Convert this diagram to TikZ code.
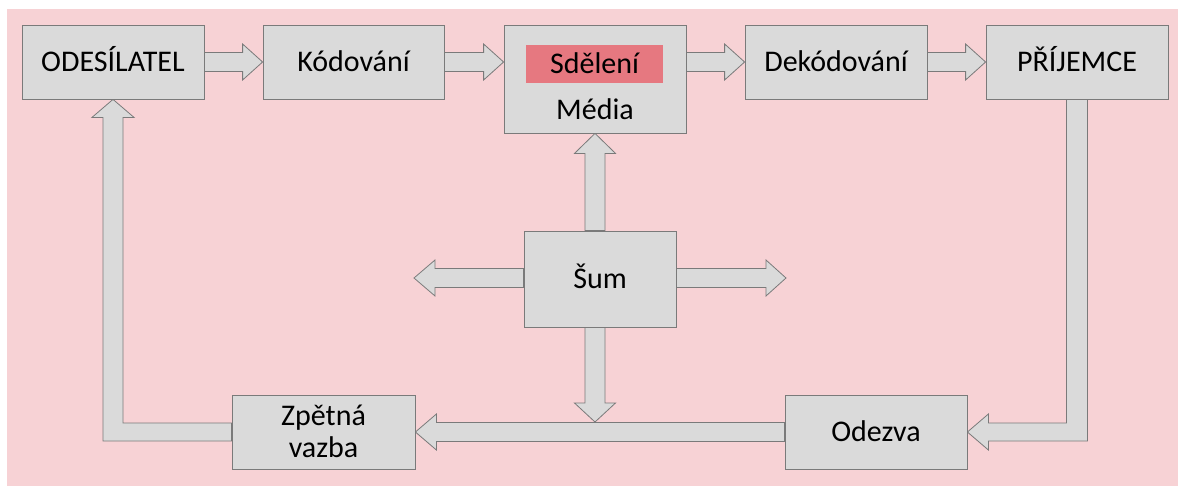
\documentclass[tikz,border=0pt]{standalone}
\usepackage{fontspec}
\setmainfont{Carlito}
\usetikzlibrary{calc}
\definecolor{bgpink}{HTML}{F7D2D5}
\definecolor{boxgray}{HTML}{DADADA}
\definecolor{edgegray}{HTML}{7A7A7A}
\definecolor{redbox}{HTML}{E67880}
\pgfdeclarelayer{bg}
\pgfdeclarelayer{arr}
\pgfsetlayers{bg,arr,main}
\tikzset{
  lbl/.style={font=\fontsize{30}{35}\selectfont, text height=19pt, text depth=0pt},
  box/.style={draw=edgegray, line width=0.8pt, fill=boxgray, minimum width=#1, minimum height=74pt, inner sep=0pt, align=center, lbl},
  box/.default=182pt,
  blk/.style={draw=edgegray, line width=0.8pt, fill=boxgray, line join=miter},
}
% horizontal block arrows: #1 start, #2 tip
\newcommand\rblk[2]{\draw[blk] let \p1=#1, \p2=#2 in (\x1,\y2+9.5pt) -- (\x2-20pt,\y2+9.5pt) -- (\x2-20pt,\y2+18pt) -- (\x2,\y2) -- (\x2-20pt,\y2-18pt) -- (\x2-20pt,\y2-9.5pt) -- (\x1,\y2-9.5pt) -- cycle;}
\newcommand\lblk[2]{\draw[blk] let \p1=#1, \p2=#2 in (\x1,\y2+9.5pt) -- (\x2+21pt,\y2+9.5pt) -- (\x2+21pt,\y2+18pt) -- (\x2,\y2) -- (\x2+21pt,\y2-18pt) -- (\x2+21pt,\y2-9.5pt) -- (\x1,\y2-9.5pt) -- cycle;}
\newcommand\ublk[2]{\draw[blk] let \p1=#1, \p2=#2 in (\x2-10pt,\y1) -- (\x2-10pt,\y2-20pt) -- (\x2-20.5pt,\y2-20pt) -- (\x2,\y2) -- (\x2+20.5pt,\y2-20pt) -- (\x2+10pt,\y2-20pt) -- (\x2+10pt,\y1) -- cycle;}
\newcommand\dblk[2]{\draw[blk] let \p1=#1, \p2=#2 in (\x2-10pt,\y1) -- (\x2-10pt,\y2+19pt) -- (\x2-20.5pt,\y2+19pt) -- (\x2,\y2) -- (\x2+20.5pt,\y2+19pt) -- (\x2+10pt,\y2+19pt) -- (\x2+10pt,\y1) -- cycle;}
\begin{document}
\begin{tikzpicture}[x=1pt,y=-1pt]
\useasboundingbox (0,0) rectangle (1184,487);
\begin{pgfonlayer}{bg}
\fill[bgpink] (7,9) rectangle (1178,486);
\end{pgfonlayer}
% top row
\node[box] (ode) at (113,62) {ODESÍLATEL};
\node[box=181pt] (kod) at (353.5,62) {Kódování};
\node[box, minimum height=108pt] (med) at (595,79) {};
\node[fill=redbox, minimum width=137pt, minimum height=38pt, inner sep=0pt, lbl] (sde) at (594.5,64) {Sdělení};
\node[lbl, inner sep=0pt] (medt) at (595,110) {Média};
\node[box] (dek) at (836,62) {Dekódování};
\node[box] (pri) at (1077,62) {PŘÍJEMCE};
% noise
\node[box=152pt, minimum height=96pt] (sum) at (600,279) {Šum};
% bottom row
\node[box=183pt] (zpv) at (323.5,432) {};
\node[lbl, inner sep=0pt] (zpv1) at (323.5,416) {Zpětná};
\node[lbl, inner sep=0pt] (zpv2) at (323.5,448) {vazba};
\node[box] (odz) at (876,432) {Odezva};
% free ends
\coordinate (nl) at (414,278);
\coordinate (nr) at (786,278);
\coordinate (nd) at (595,422);
\begin{pgfonlayer}{arr}
\rblk{(ode.east)}{(kod.west)}
\rblk{(kod.east)}{(med.west|-kod.east)}
\rblk{(med.east|-dek.west)}{(dek.west)}
\rblk{(dek.east)}{(pri.west)}
\ublk{(med.south|-sum.north)}{(med.south)}
\dblk{(med.south|-sum.south)}{(nd)}
\lblk{(sum.west|-nl)}{(nl)}
\rblk{(sum.east|-nr)}{(nr)}
\lblk{(odz.west)}{(zpv.east)}
% bent feedback from receiver to response
\draw[blk] let \p1=(pri.south), \p2=(odz.east) in
  (\x1-10.5pt,\y1) -- (\x1+10.5pt,\y1) -- (\x1+10.5pt,\y2-9pt) -- (\x2+21pt,\y2-9pt) -- (\x2+21pt,\y2-18pt) -- (\x2,\y2) -- (\x2+21pt,\y2+18pt) -- (\x2+21pt,\y2+9pt) -- (\x1-10.5pt,\y2+9pt) -- cycle;
% bent feedback to sender
\draw[blk] let \p1=(zpv.west), \p2=(ode.south) in
  (\x1,\y1-9pt) -- (\x2-10pt,\y1-9pt) -- (\x2-10pt,\y2-18pt) -- (\x2-21pt,\y2-18pt) -- (\x2,\y2) -- (\x2+21pt,\y2-18pt) -- (\x2+10pt,\y2-18pt) -- (\x2+10pt,\y1+9pt) -- (\x1,\y1+9pt) -- cycle;
\end{pgfonlayer}
\end{tikzpicture}
\end{document}
